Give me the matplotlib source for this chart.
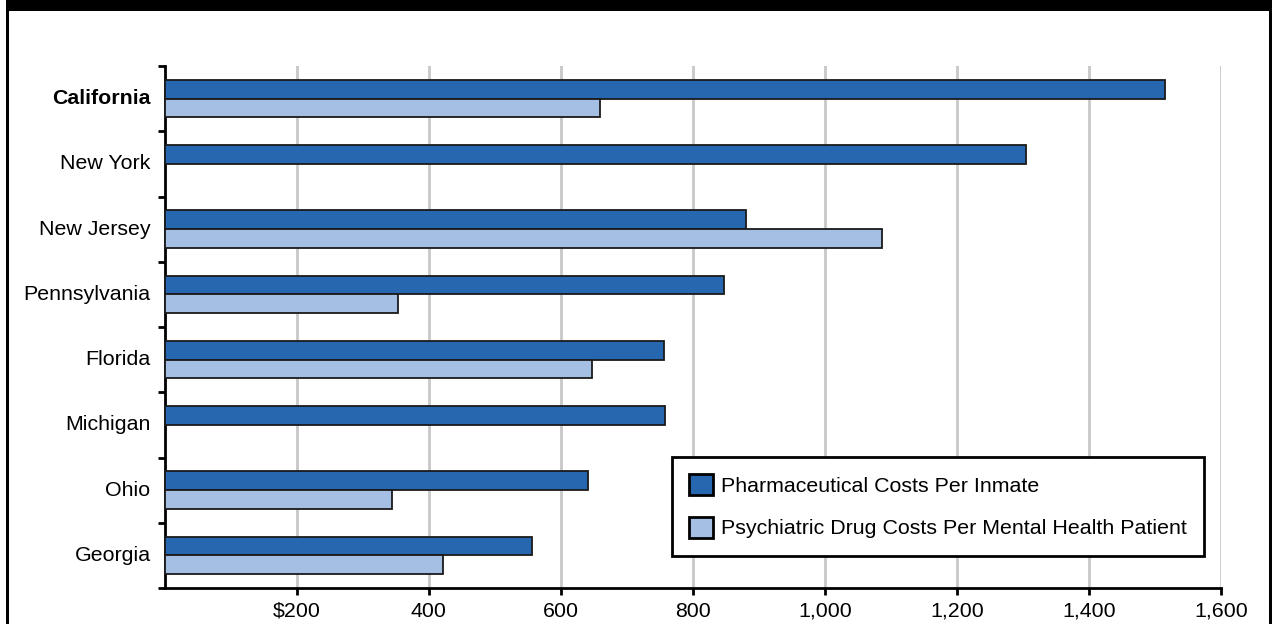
import matplotlib
matplotlib.use("Agg")
import matplotlib.pyplot as plt
from matplotlib.patches import Patch, Rectangle
import numpy as np

plt.rcParams['font.family'] = ['Liberation Sans', 'DejaVu Sans']

states = ["California", "New York", "New Jersey", "Pennsylvania",
          "Florida", "Michigan", "Ohio", "Georgia"]
pharma_per_inmate = [1515, 1304, 880, 847, 757, 758, 642, 557]
psych_per_patient = [659, np.nan, 1086, 353, 648, np.nan, 345, 422]
x_ticks = [200, 400, 600, 800, 1000, 1200, 1400, 1600]
x_tick_labels = ["$200", "400", "600", "800", "1,000", "1,200", "1,400", "1,600"]
series_names = ["Pharmaceutical Costs Per Inmate",
                "Psychiatric Drug Costs Per Mental Health Patient"]

DARK = "#2667b0"
LIGHT = "#a5bee3"
EDGE = "#1a1a1a"
FS = 15.4

W, H = 1273, 624
fig = plt.figure(figsize=(W / 100, H / 100), dpi=100)
ax = fig.add_axes([164.5 / W, 1 - 588 / H, (1221 - 164.5) / W, (588 - 66) / H])

y = np.arange(len(states))
bh = 0.286
ax.barh(y - bh / 2, pharma_per_inmate, height=bh, color=DARK,
        edgecolor=EDGE, linewidth=1.3, zorder=3)
ax.barh(y + bh / 2, psych_per_patient, height=bh, color=LIGHT,
        edgecolor=EDGE, linewidth=1.3, zorder=3)

ax.set_xlim(0, 1600)
ax.set_ylim(len(states) - 0.5, -0.5)

ax.set_xticks(x_ticks)
ax.set_xticklabels(x_tick_labels, fontsize=FS)
ax.tick_params(axis='x', direction='out', length=5, width=2, pad=5, color='black')
ax.grid(axis='x', color='#c8c8c8', linewidth=2, zorder=0)
ax.set_axisbelow(True)

ax.set_yticks(y)
ax.set_yticklabels(states, fontsize=FS, va='center')
ax.set_yticks(np.arange(len(states) + 1) - 0.5, minor=True)
ax.tick_params(axis='y', which='major', length=0, pad=10)
ax.tick_params(axis='y', which='minor', direction='out', length=5, width=2, color='black')
ax.get_yticklabels()[0].set_fontweight('bold')

for s in ['top', 'right']:
    ax.spines[s].set_visible(False)
for s in ['left', 'bottom']:
    ax.spines[s].set_linewidth(2)
    ax.spines[s].set_color('black')

handles = [Patch(facecolor=DARK, edgecolor='black', linewidth=2, label=series_names[0]),
           Patch(facecolor=LIGHT, edgecolor='black', linewidth=2, label=series_names[1])]
leg = ax.legend(handles=handles, loc='upper left',
                bbox_to_anchor=(672 / W, 1 - 457 / H), bbox_transform=fig.transFigure,
                fontsize=FS, frameon=True, fancybox=False, framealpha=1,
                edgecolor='black', borderpad=0.8, handlelength=1.12,
                handleheight=1.12, handletextpad=0.38, labelspacing=0.98,
                borderaxespad=0)
leg.get_frame().set_linewidth(2)
leg.set_zorder(5)

# page frame: heavy top rule and thin side rules
fig.add_artist(Rectangle((6 / W, 1 - 11 / H), (1272 - 6) / W, 11 / H,
                         transform=fig.transFigure, facecolor='black', edgecolor='none'))
fig.add_artist(Rectangle((6 / W, 0), 2.5 / W, 1, transform=fig.transFigure,
                         facecolor='black', edgecolor='none'))
fig.add_artist(Rectangle((1269 / W, 0), 3 / W, 1, transform=fig.transFigure,
                         facecolor='black', edgecolor='none'))

fig.savefig("out.png", dpi=100, facecolor='white')
